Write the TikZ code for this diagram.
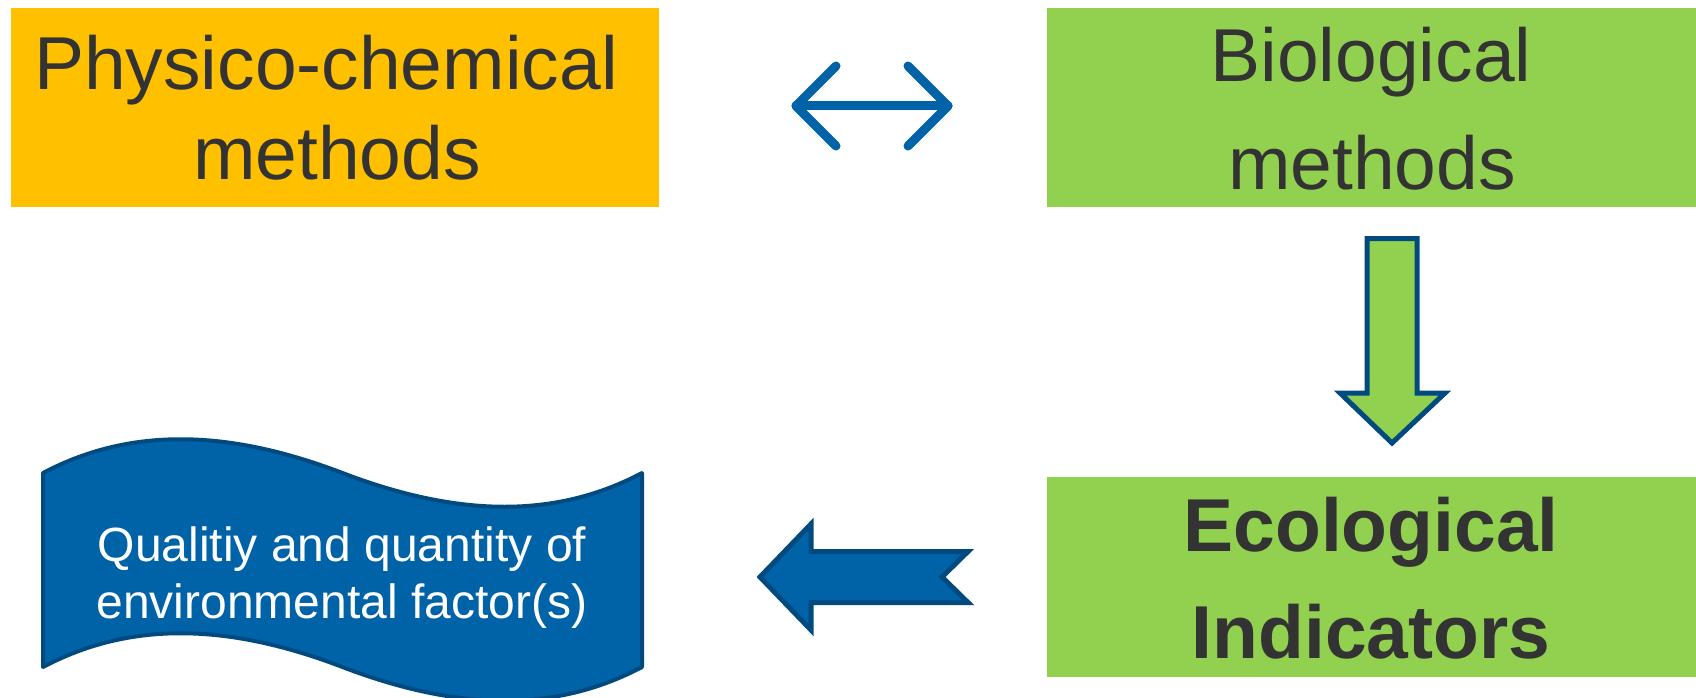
\documentclass[tikz,border=0pt]{standalone}
\usepackage{fontspec}
\setmainfont{Liberation Sans}
\definecolor{orng}{HTML}{FFC000}
\definecolor{grn}{HTML}{92D050}
\definecolor{blu}{HTML}{0063A8}
\definecolor{bluedge}{HTML}{004A80}
\definecolor{txtgrey}{HTML}{333333}
\tikzset{
  boxbg/.style={inner sep=0pt, anchor=north west},
  bigtxt/.style={text=txtgrey, anchor=base, inner sep=0pt, font=\fontsize{75}{90}\selectfont},
  boldtxt/.style={bigtxt, font=\fontsize{75}{90}\selectfont\bfseries},
  bantxt/.style={text=white, anchor=base, inner sep=0pt, font=\fontsize{48}{57}\selectfont},
  blockarrow/.style={draw=bluedge, line width=5pt, line join=miter},
  thinarrow/.style={draw=blu, line width=9pt, line cap=round, line join=round}
}
\begin{document}
\begin{tikzpicture}[x=1pt,y=-1pt]
\useasboundingbox (0,0) rectangle (1696,698);
% boxes
\node[boxbg, fill=orng, minimum width=648pt, minimum height=199pt] (phys) at (11,8) {};
\node[boxbg, fill=grn, minimum width=649pt, minimum height=199pt] (bio) at (1047,8) {};
\node[boxbg, fill=grn, minimum width=649pt, minimum height=200pt] (eco) at (1047,477) {};
% texts
\node[bigtxt] (phys1) at (335,90) {Physico-chemical\kern18pt};
\node[bigtxt] (phys2) at (337,179) {methods};
\node[bigtxt] (bio1) at (1371,82) {Biological};
\node[bigtxt] (bio2) at (1372,189) {methods};
\node[boldtxt] (eco1) at (1371,551) {Ecological};
\node[boldtxt] (eco2) at (1371,658) {Indicators};
% banner
\draw[fill=blu, draw=bluedge, line width=4pt, line join=round]
  (43,473) .. controls (128,428) and (225,428) .. (342.5,473)
           .. controls (460,518) and (557,518) .. (642,473)
  -- (642,667)
  .. controls (557,712) and (460,712) .. (342.5,667)
  .. controls (225,622) and (128,622) .. (43,667) -- cycle;
\node[bantxt] (ban1) at (342,561) {Qualitiy and quantity of};
\node[bantxt] (ban2) at (342,618) {environmental factor(s)};
% double arrow
\coordinate (dl) at (796,106);
\coordinate (dr) at (948,106);
\draw[thinarrow] (dl) -- (dr);
\draw[thinarrow] (836,66) -- (dl) -- (836,146);
\draw[thinarrow] (908,66) -- (dr) -- (908,146);
% down arrow
\draw[blockarrow, fill=grn] (1367,238.5) -- (1417,238.5) -- (1417,393) -- (1445,393)
  -- (1392,443) -- (1340,393) -- (1367,393) -- cycle;
% left arrow
\draw[blockarrow, fill=blu] (760,577) -- (811,524) -- (811,551.5) -- (968,551.5)
  -- (942,577) -- (968,602.5) -- (811,602.5) -- (811,630) -- cycle;
\end{tikzpicture}
\end{document}
